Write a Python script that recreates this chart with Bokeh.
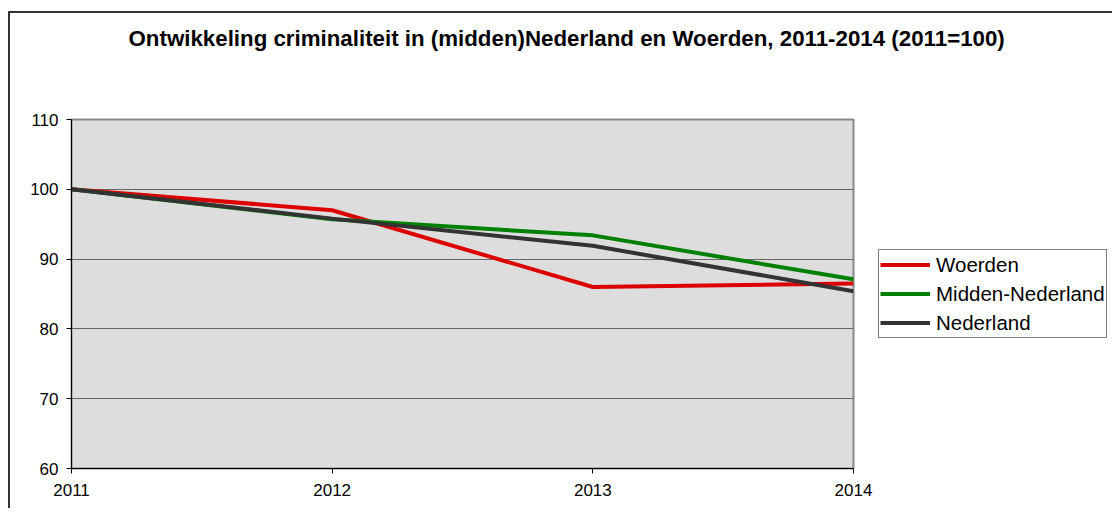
from bokeh.plotting import figure
from bokeh.models import Legend, LegendItem, FixedTicker, Title
from bokeh.embed import file_html
from bokeh.resources import INLINE

years = [2011, 2012, 2013, 2014]
woerden = [100.0, 97.0, 86.0, 86.5]
midden_nederland = [100.0, 95.7, 93.4, 87.1]
nederland = [100.0, 95.8, 91.9, 85.4]
series_names = ["Woerden", "Midden-Nederland", "Nederland"]
y_ticks = [60, 70, 80, 90, 100, 110]
title_text = "Ontwikkeling criminaliteit in (midden)Nederland en Woerden, 2011-2014 (2011=100)"

FONT = "Liberation Sans"

p = figure(frame_width=782, frame_height=349, output_backend="svg", toolbar_location=None,
           x_range=(2011, 2014), y_range=(60, 110),
           min_border_left=61, min_border_right=0, min_border_top=106, min_border_bottom=40)
p.margin = (11, 0, 0, 8)
p.styles = {"border-left": "2px solid #333333", "border-top": "2px solid #333333"}

p.title.text = title_text
p.title.align = "left"
p.title.offset = 57
p.title.vertical_align = "bottom"
p.title.standoff = 0
p.title.text_font = FONT
p.title.text_font_size = "22.3px"
p.title.text_font_style = "bold"
p.title.text_color = "black"

# empty spacer panel between the title and the plot frame
spacer = Title(text=" ", text_font_size="1px", standoff=66, text_color="white")
p.add_layout(spacer, "above")

p.background_fill_color = "#DDDDDD"
p.border_fill_color = "white"
p.outline_line_color = "#888888"
p.outline_line_width = 2

p.xgrid.visible = False
p.ygrid.grid_line_color = "#666666"
p.ygrid.grid_line_width = 1
p.ygrid.ticker = FixedTicker(ticks=y_ticks)

p.yaxis.ticker = FixedTicker(ticks=y_ticks)
p.xaxis.ticker = FixedTicker(ticks=years)
for ax in (p.xaxis[0], p.yaxis[0]):
    ax.axis_line_color = "black"
    ax.axis_line_width = 1
    ax.major_tick_line_color = "black"
    ax.major_tick_in = 0
    ax.major_tick_out = 5
    ax.minor_tick_line_color = None
    ax.major_label_text_font = FONT
    ax.major_label_text_font_size = "17px"
    ax.major_label_text_color = "black"
p.yaxis.major_label_standoff = 8
p.xaxis.major_label_standoff = 10

colors = ["#DD0000", "#008000", "#333333"]
data = [woerden, midden_nederland, nederland]
renderers = []
for vals, c in zip(data, colors):
    r = p.line(years, vals, line_color=c, line_width=4)
    renderers.append(r)

legend = Legend(items=[LegendItem(label=n, renderers=[r]) for n, r in zip(series_names, renderers)],
                location=(25, 130))
legend.border_line_color = "black"
legend.border_line_width = 1
legend.background_fill_color = "white"
legend.background_fill_alpha = 1
legend.label_text_font = FONT
legend.label_text_font_size = "20.5px"
legend.label_text_color = "black"
legend.glyph_width = 50
legend.glyph_height = 27
legend.label_height = 27
legend.spacing = 2
legend.padding = 1
legend.margin = 0
legend.label_standoff = 6
p.add_layout(legend, "right")

open("out.html", "w").write(file_html(p, INLINE))
